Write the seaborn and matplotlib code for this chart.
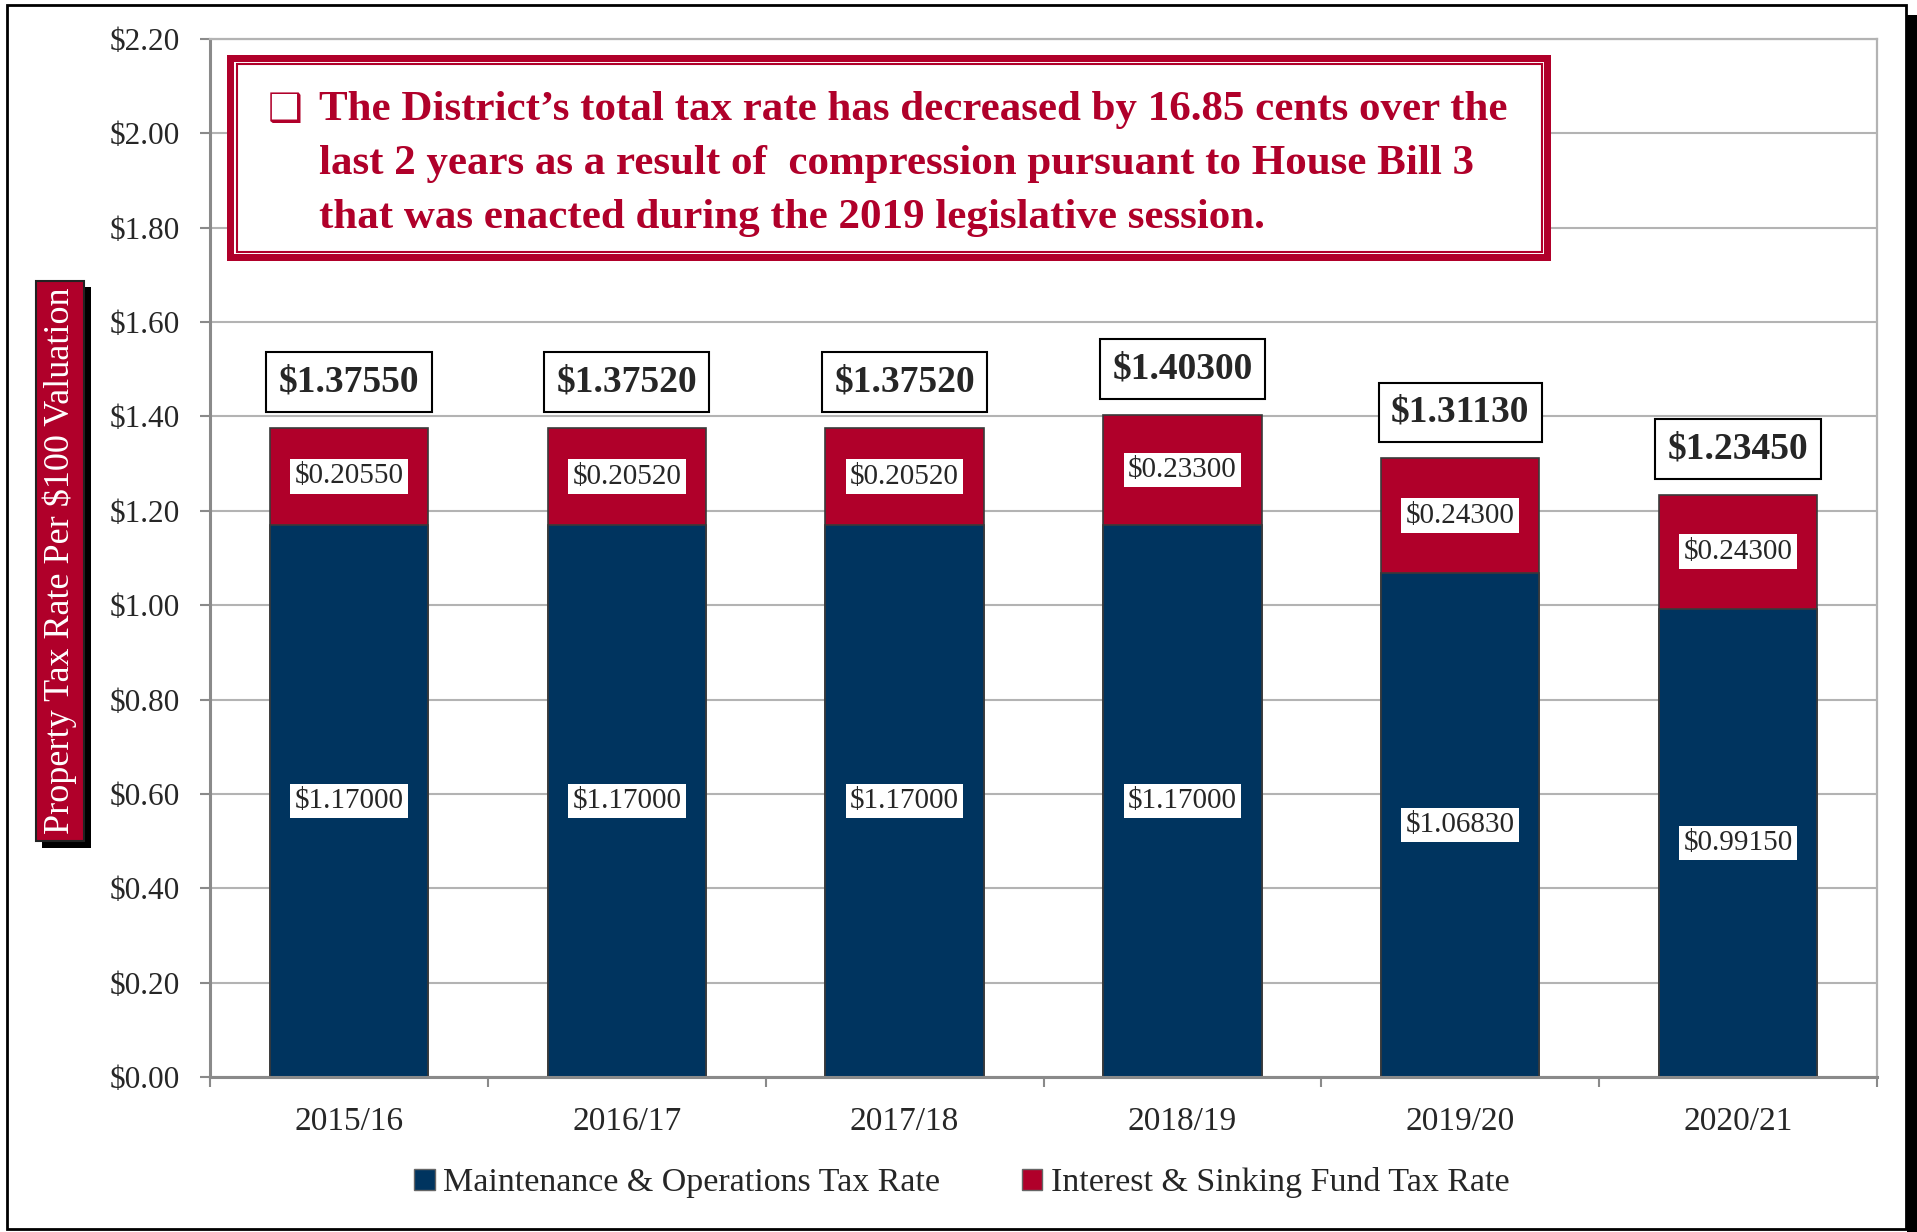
import numpy as np
import pandas as pd
import matplotlib
matplotlib.use("Agg")
import matplotlib.pyplot as plt
import matplotlib.patheffects as pe
from matplotlib.patches import Patch, Rectangle
import seaborn as sns

# data
years = ["2015/16", "2016/17", "2017/18", "2018/19", "2019/20", "2020/21"]
mo_rate = [1.17000, 1.17000, 1.17000, 1.17000, 1.06830, 0.99150]
is_rate = [0.20550, 0.20520, 0.20520, 0.23300, 0.24300, 0.24300]
total_rate = [1.37550, 1.37520, 1.37520, 1.40300, 1.31130, 1.23450]

NAVY = "#00345f"
RED = "#b0002a"

sns.set_style("white")
plt.rcParams["font.family"] = ["Liberation Serif", "DejaVu Sans"]

df = pd.DataFrame({"year": years, "mo": mo_rate, "ins": is_rate, "total": total_rate})

W, H = 1917, 1232
fig = plt.figure(figsize=(W / 100, H / 100), dpi=100, facecolor="white")


def fx(px):
    return px / W


def fy(py):
    return 1 - py / H


ax = fig.add_axes([fx(210), fy(1077), fx(1877) - fx(210), fy(39) - fy(1077)])

# stacked bars: totals in red, M&O in navy over them
sns.barplot(data=df, x="year", y="total", color=RED, saturation=1, width=0.57,
            edgecolor="#3a3a3a", linewidth=1.2, ax=ax)
sns.barplot(data=df, x="year", y="mo", color=NAVY, saturation=1, width=0.57,
            edgecolor="#3a3a3a", linewidth=1.2, ax=ax)

ax.set_xlim(-0.5, 5.5)
ax.set_ylim(0, 2.2)
ax.set_yticks(np.arange(0, 2.21, 0.2))
ax.set_yticklabels(["\\$%.2f" % v for v in np.arange(0, 2.21, 0.2)])
ax.set_xlabel("")
ax.set_ylabel("")
ax.yaxis.grid(True, color="#b3b3b3", lw=1.5)
ax.set_axisbelow(True)

for s in ["left", "bottom"]:
    ax.spines[s].set_color("#8a8a8a")
    ax.spines[s].set_linewidth(2.2)
for s in ["top", "right"]:
    ax.spines[s].set_color("#b3b3b3")
    ax.spines[s].set_linewidth(1.6)

ax.set_xticks(np.arange(-0.5, 6, 1), minor=True)
ax.tick_params(axis="x", which="major", length=0, pad=21, labelsize=24)
ax.tick_params(axis="x", which="minor", length=7, width=1.5, color="#8a8a8a", direction="out")
ax.tick_params(axis="y", which="major", length=7, width=1.5, color="#8a8a8a",
               direction="out", pad=15, labelsize=22.5)
ax.tick_params(left=True, bottom=True)
ax.xaxis.set_tick_params(which="minor", bottom=True)

# value labels
for i in range(len(years)):
    ax.text(i, mo_rate[i] / 2, "\\$%.5f" % mo_rate[i], ha="center", va="center",
            fontsize=21, bbox=dict(boxstyle="square,pad=0.15", fc="white", ec="none"))
    ax.text(i, mo_rate[i] + is_rate[i] / 2, "\\$%.5f" % is_rate[i], ha="center", va="center",
            fontsize=21, bbox=dict(boxstyle="square,pad=0.15", fc="white", ec="none"))
    ax.annotate("\\$%.5f" % total_rate[i], xy=(i, total_rate[i]), xytext=(0, 33),
                textcoords="offset points", ha="center", va="center",
                fontsize=27, fontweight="bold",
                bbox=dict(boxstyle="square,pad=0.33", fc="white", ec="black", lw=1.5))

# y label in red box with shadow
yl = fig.text(fx(60), fy(561), "Property Tax Rate Per $100 Valuation", rotation=90,
              ha="center", va="center", color="white", fontsize=26,
              bbox=dict(boxstyle="square,pad=0.2", fc=RED, ec="#222222", lw=1.5))
yl.get_bbox_patch().set_path_effects([
    pe.SimplePatchShadow(offset=(4.5, -4.5), shadow_rgbFace="black", alpha=1.0),
    pe.Normal()])

# callout box at top
x0, y0, x1, y1 = 227, 55, 1551, 261
fig.patches.append(Rectangle((fx(x0), fy(y1)), fx(x1) - fx(x0), fy(y0) - fy(y1),
                             transform=fig.transFigure, fc=RED, ec="none", zorder=5))
fig.patches.append(Rectangle((fx(x0 + 7), fy(y1 - 7)), fx(x1 - 7) - fx(x0 + 7),
                             fy(y0 + 7) - fy(y1 - 7),
                             transform=fig.transFigure, fc="white", ec="none", zorder=5))
fig.patches.append(Rectangle((fx(x0 + 9.5), fy(y1 - 9.5)), fx(x1 - 9.5) - fx(x0 + 9.5),
                             fy(y0 + 9.5) - fy(y1 - 9.5),
                             transform=fig.transFigure, fc="white", ec=RED, lw=1.5, zorder=5))

lines = ["The District\u2019s total tax rate has decreased by 16.85 cents over the",
         "last 2 years as a result of  compression pursuant to House Bill 3",
         "that was enacted during the 2019 legislative session."]
fig.text(fx(268), fy(121), "\u2751", ha="left", va="baseline", color=RED,
         fontsize=28, family=["DejaVu Sans"], zorder=6)
for k, ln in enumerate(lines):
    fig.text(fx(319), fy(120 + 54 * k), ln, ha="left", va="baseline", color=RED,
             fontsize=31, fontweight="bold", zorder=6)

# legend
handles = [Patch(facecolor=NAVY, edgecolor="#666666", label="Maintenance & Operations Tax Rate"),
           Patch(facecolor=RED, edgecolor="#666666", label="Interest & Sinking Fund Tax Rate")]
fig.legend(handles=handles, loc="center", bbox_to_anchor=(fx(962), fy(1183)), ncol=2,
           frameon=False, fontsize=24.5, handlelength=0.6, handleheight=0.6,
           handletextpad=0.25, columnspacing=2.4)

# outer frame with shadow
fig.patches.append(Rectangle((fx(7), fy(1229)), fx(1906) - fx(7), fy(5) - fy(1229),
                             transform=fig.transFigure, fill=False, ec="black", lw=2))
fig.patches.append(Rectangle((fx(1907), fy(1232)), fx(1917) - fx(1907), fy(15) - fy(1232),
                             transform=fig.transFigure, fc="black", ec="none"))

fig.savefig("out.png", dpi=100, facecolor="white")
